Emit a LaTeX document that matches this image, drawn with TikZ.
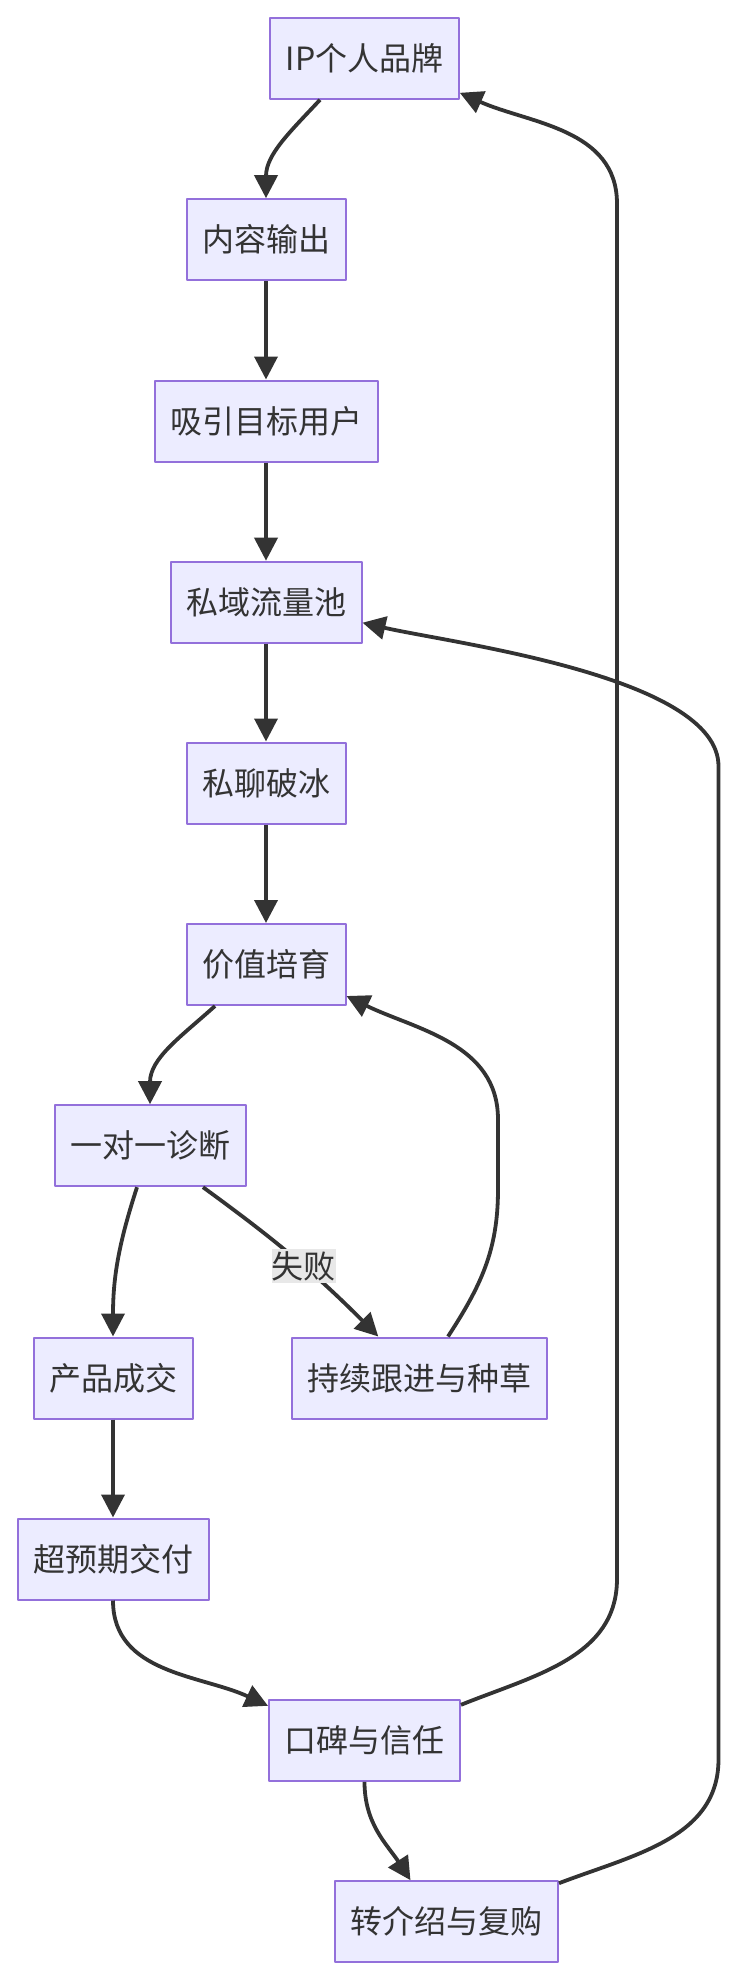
\documentclass[tikz,border=0pt]{standalone}
\usepackage{fontspec}
\setmainfont{Noto Sans CJK SC}
\usepackage{xcolor}
\usepackage{tikz}
\usetikzlibrary{arrows.meta}
\definecolor{fcFill}{HTML}{ECECFF}
\definecolor{fcStroke}{HTML}{9370DB}
\definecolor{fcInk}{HTML}{333333}
\definecolor{fcLine}{HTML}{333333}
\definecolor{fcLabel}{HTML}{E8E8E8}
\tikzset{
  fc diagram/.style={x=1pt, y=1pt, font=\fontsize{32}{38}\selectfont,
    text=fcInk, line join=round},
  fc box/.style={draw=fcStroke, fill=fcFill, line width=2pt,
    minimum height=81pt, inner xsep=15.5pt, inner ysep=0pt},
  fc arrow/.style={-{Triangle[length=23pt,width=23pt]}, draw=fcLine,
    line width=3.8pt},
  fc label/.style={fill=fcLabel, inner xsep=0pt, inner ysep=2.5pt}
}

\begin{document}
\begin{tikzpicture}[fc diagram]
\useasboundingbox (0,0) rectangle (736,-1978);
\node[fc box] (ip) at (364.5,-58.3) {IP个人品牌};
\node[fc box] (content) at (266,-239.7) {内容输出};
\node[fc box] (attract) at (266,-421) {吸引目标用户};
\node[fc box] (pool) at (266,-602.2) {私域流量池};
\node[fc box] (chat) at (266,-783) {私聊破冰};
\node[fc box] (value) at (266,-964.5) {价值培育};
\node[fc box] (diag) at (150,-1145.7) {一对一诊断};
\node[fc box] (deal) at (113,-1378) {产品成交};
\node[fc box] (follow) at (419,-1378) {持续跟进与种草};
\node[fc box] (deliver) at (113,-1559) {超预期交付};
\node[fc box] (trust) at (364.5,-1740.3) {口碑与信任};
\node[fc box] (refer) at (446.5,-1921.7) {转介绍与复购};
\draw[fc arrow] ([xshift=-44.5pt]ip.south) to[out=-133,in=90] (content.north);
\draw[fc arrow] (content) -- (attract);
\draw[fc arrow] (attract) -- (pool);
\draw[fc arrow] (pool) -- (chat);
\draw[fc arrow] (chat) -- (value);
\draw[fc arrow] ([xshift=-51pt]value.south) to[out=-138,in=90] (diag.north);
\draw[fc arrow] ([xshift=-13pt]diag.south) to[out=-108,in=90] (deal.north);
\draw[fc arrow] ([xshift=53pt]diag.south) to[out=-36,in=135]
  node[fc label, pos=0.56] {失败} ([xshift=-40.7pt]follow.north);
\draw[fc arrow] ([xshift=29pt]follow.north) to[out=57,in=-90] ++(50,147)
  -- ++(0,70) to[out=90,in=-26] ([yshift=10pt]value.south east);
\draw[fc arrow] (deal) -- (deliver);
\draw[fc arrow] (deliver.south) to[out=-90,in=155] ([yshift=-7pt]trust.north west);
\draw[fc arrow] (trust.south) to[out=-90,in=123] ([xshift=-36pt]refer.north);
\draw[fc arrow] ([yshift=-6pt]trust.north east) to[out=22,in=-90] ++(156,126)
  -- ++(0,1375) to[out=90,in=-24] ([yshift=7pt]ip.south east);
\draw[fc arrow] ([yshift=-3pt]refer.north east) to[out=21,in=-90] ++(159.5,124)
  -- ++(0,993) to[out=90,in=-13,looseness=0.6] ([yshift=21pt]pool.south east);
\end{tikzpicture}
\end{document}
